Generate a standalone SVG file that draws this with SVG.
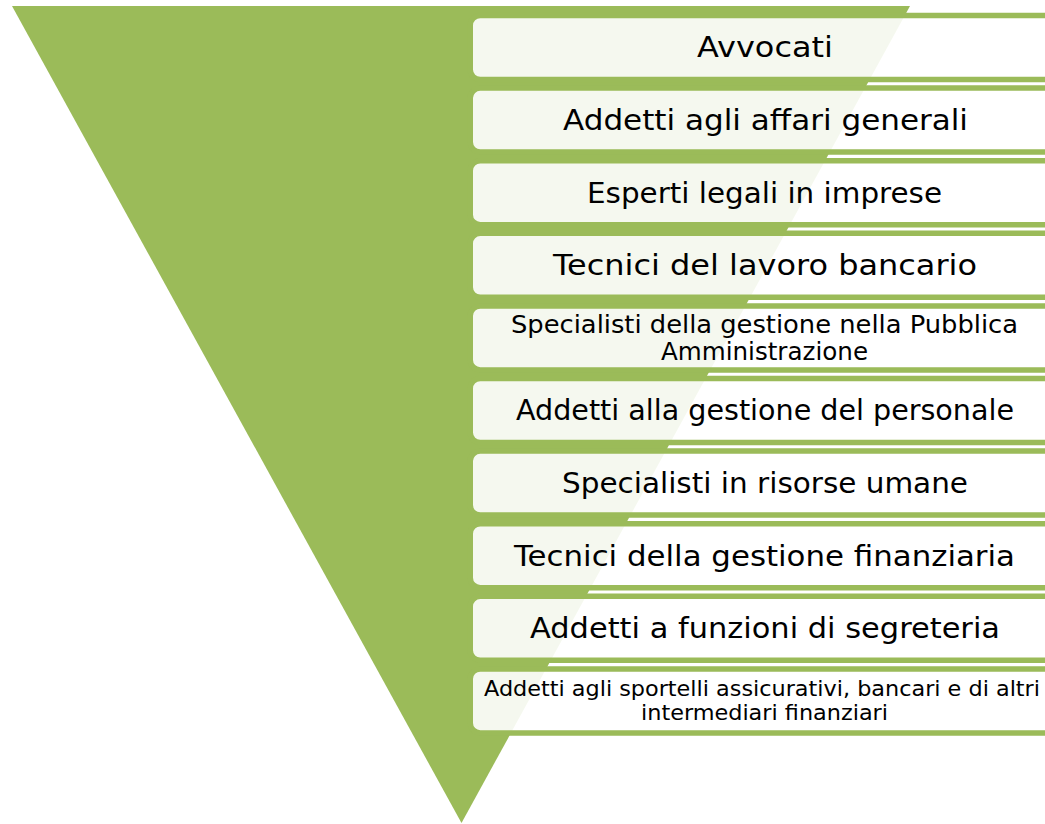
<svg xmlns="http://www.w3.org/2000/svg" width="1045" height="824" viewBox="0 0 1045 824">
<style>
.box{fill:#ffffff;fill-opacity:0.9;stroke:#9bbb59;stroke-width:5.5}
.t{font-family:"DejaVu Sans","Liberation Sans",sans-serif;fill:#000;text-anchor:middle}
.l{font-size:28px}
.m{font-size:24px}
.s{font-size:20.5px}
</style>
<rect width="1045" height="824" fill="#ffffff"/>
<g id="triangle"><polygon points="12,6 910,6 461.5,823" fill="#9bbb59"/></g>
<g id="connectors"></g>
<g id="n1"><rect class="box" x="470.25" y="15.5" width="590" height="64" rx="10"/><text class="t l" x="765" y="57" textLength="136" lengthAdjust="spacingAndGlyphs">Avvocati</text></g>
<g id="n2"><rect class="box" x="470.25" y="88.1" width="590" height="64" rx="10"/><text class="t l" x="765.5" y="130" textLength="405" lengthAdjust="spacingAndGlyphs">Addetti agli affari generali</text></g>
<g id="n3"><rect class="box" x="470.25" y="160.7" width="590" height="64" rx="10"/><text class="t l" x="764.5" y="202.5" textLength="355" lengthAdjust="spacingAndGlyphs">Esperti legali in imprese</text></g>
<g id="n4"><rect class="box" x="470.25" y="233.3" width="590" height="64" rx="10"/><text class="t l" x="765" y="275" textLength="424" lengthAdjust="spacingAndGlyphs">Tecnici del lavoro bancario</text></g>
<g id="n5"><rect class="box" x="470.25" y="305.9" width="590" height="64" rx="10"/><text class="t m" x="764.5" y="333" textLength="507" lengthAdjust="spacingAndGlyphs">Specialisti della gestione nella Pubblica</text><text class="t m" x="764.5" y="360" textLength="207" lengthAdjust="spacingAndGlyphs">Amministrazione</text></g>
<g id="n6"><rect class="box" x="470.25" y="378.5" width="590" height="64" rx="10"/><text class="t l" x="765" y="420" textLength="498" lengthAdjust="spacingAndGlyphs">Addetti alla gestione del personale</text></g>
<g id="n7"><rect class="box" x="470.25" y="451.1" width="590" height="64" rx="10"/><text class="t l" x="765" y="493" textLength="406" lengthAdjust="spacingAndGlyphs">Specialisti in risorse umane</text></g>
<g id="n8"><rect class="box" x="470.25" y="523.7" width="590" height="64" rx="10"/><text class="t l" x="764.5" y="565.5" textLength="501" lengthAdjust="spacingAndGlyphs">Tecnici della gestione finanziaria</text></g>
<g id="n9"><rect class="box" x="470.25" y="596.3" width="590" height="64" rx="10"/><text class="t l" x="765" y="638" textLength="470" lengthAdjust="spacingAndGlyphs">Addetti a funzioni di segreteria</text></g>
<g id="n10"><rect class="box" x="470.25" y="668.9" width="590" height="64" rx="10"/><text class="t s" x="762" y="696" textLength="556" lengthAdjust="spacingAndGlyphs">Addetti agli sportelli assicurativi, bancari e di altri</text><text class="t s" x="764.5" y="720" textLength="247" lengthAdjust="spacingAndGlyphs">intermediari finanziari</text></g>
</svg>
